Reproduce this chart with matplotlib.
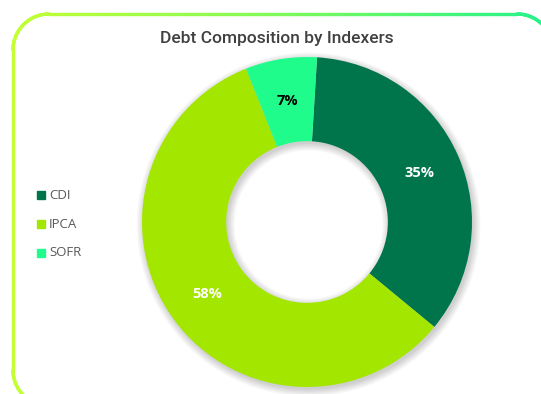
import numpy as np
import matplotlib.pyplot as plt
from matplotlib.collections import LineCollection
from matplotlib.colors import LinearSegmentedColormap

labels = ['CDI', 'IPCA', 'SOFR']
shares = [35, 58, 7]
colors = ['#00754C', '#A3E600', '#1FFC8C']
label_colors = ['white', 'white', 'black']
title = 'Debt Composition by Indexers'

W, H = 541, 394
fig = plt.figure(figsize=(W / 100, H / 100), dpi=100)
fig.patch.set_facecolor('white')

# overlay in pixel coords for the rounded gradient frame
bg = fig.add_axes([0, 0, 1, 1])
bg.set_xlim(0, W)
bg.set_ylim(H, 0)
bg.axis('off')

def rounded_rect(x0, y0, x1, y1, r, n=40):
    pts = []
    corners = [(x1 - r, y0 + r, -90, 0), (x1 - r, y1 - r, 0, 90),
               (x0 + r, y1 - r, 90, 180), (x0 + r, y0 + r, 180, 270)]
    for cx, cy, a0, a1 in corners:
        t = np.radians(np.linspace(a0, a1, n))
        pts += list(zip(cx + r * np.cos(t), cy + r * np.sin(t)))
    pts.append(pts[0])
    return np.array(pts)

pts = rounded_rect(13, 14, 553, 406, 36)
# densify so the gradient is smooth along straight edges
dense = []
for a, b in zip(pts[:-1], pts[1:]):
    k = max(2, int(np.hypot(*(b - a)) / 3))
    for s in np.linspace(0, 1, k, endpoint=False):
        dense.append(a + (b - a) * s)
dense.append(pts[-1])
dense = np.array(dense)
segs = np.stack([dense[:-1], dense[1:]], axis=1)
cmap = LinearSegmentedColormap.from_list('frame', ['#C4FF33', '#7DFA5A', '#22F28C'])
lc = LineCollection(segs, cmap=cmap, linewidths=2.4, capstyle='round')
lc.set_array((segs[:, 0, 0] - 13) / (553 - 13))
lc.set_clim(0, 1)
bg.add_collection(lc)

bg.text(277, 38, title, ha='center', va='center', fontsize=12.5,
        color='#404040', family='Roboto', fontweight='medium')

# legend
for i, (lab, c) in enumerate(zip(labels, colors)):
    y = 195 + i * 29
    bg.add_patch(plt.Rectangle((37, y - 4), 8, 8, color=c))
    bg.text(49, y, lab, ha='left', va='center', fontsize=9.5,
            color='#595959', family='Open Sans')

# donut
cx, cy, R = 307, 222, 165
ax = fig.add_axes([(cx - R * 1.05) / W, (H - cy - R * 1.05) / H,
                   2.1 * R / W, 2.1 * R / H])

# soft shadow
for i in range(8):
    ax.pie([1], radius=1.0 + 0.006 * i, colors=['#000000'], startangle=90,
           wedgeprops=dict(width=0.51 + 0.012 * i, alpha=0.025, linewidth=0),
           center=(0.01, -0.015))

wedges, _ = ax.pie(shares, colors=colors, startangle=86.5, counterclock=False,
                   radius=1.0, wedgeprops=dict(width=0.51, linewidth=0))

for w, s, tc in zip(wedges, shares, label_colors):
    ang = np.radians((w.theta1 + w.theta2) / 2)
    r = 0.745
    ax.text(r * np.cos(ang), r * np.sin(ang), f'{s}%', ha='center', va='center',
            fontsize=10.5, fontweight='bold', color=tc, family='Open Sans')

ax.set_xlim(-1.05, 1.05)
ax.set_ylim(-1.05, 1.05)
ax.set_aspect('equal')
ax.axis('off')

plt.savefig('out.png', dpi=100, facecolor='white')
